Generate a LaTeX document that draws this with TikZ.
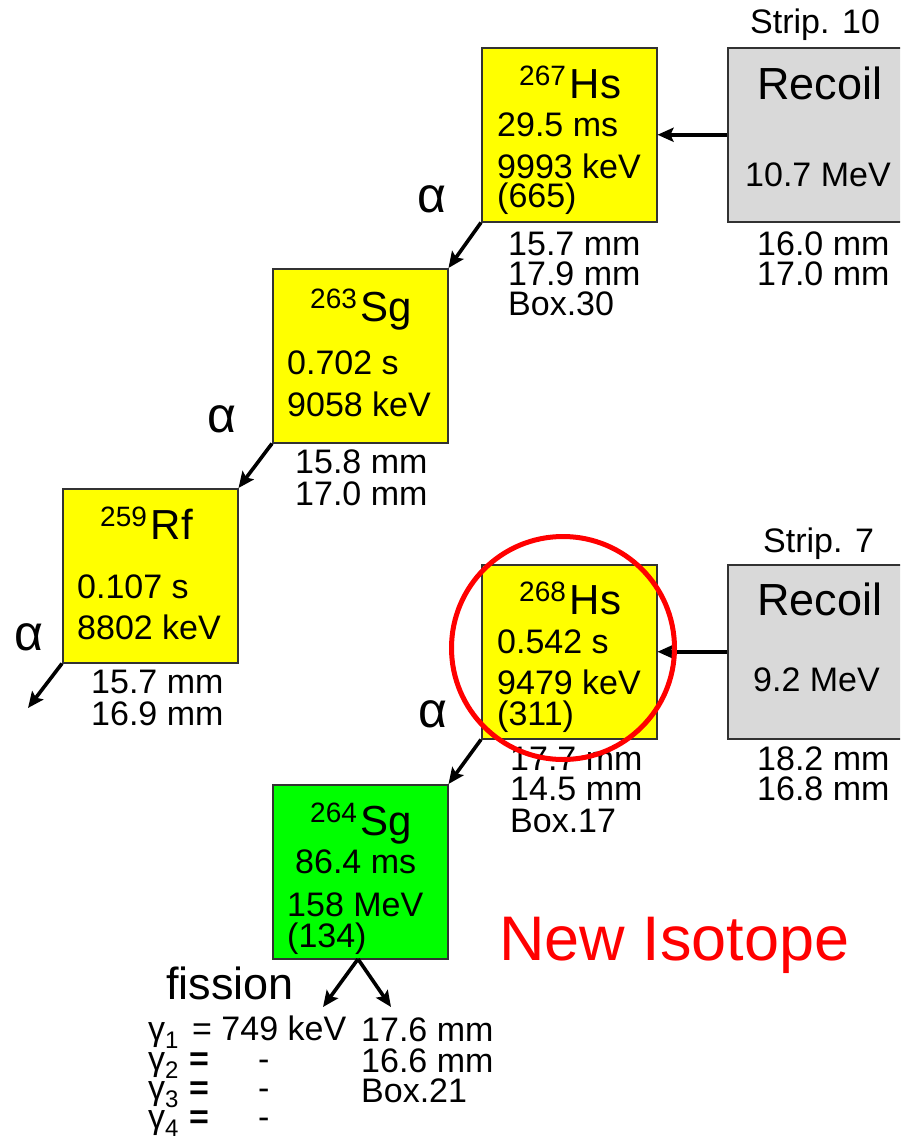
\documentclass[tikz,border=0pt]{standalone}
\usepackage{fontspec}
\setmainfont{Liberation Sans}
\usetikzlibrary{arrows.meta}
\definecolor{boxyellow}{RGB}{255,255,0}
\definecolor{boxgreen}{RGB}{0,255,0}
\definecolor{recoilgray}{RGB}{217,217,217}
\definecolor{edgegray}{RGB}{50,50,50}
\newcommand\fs[1]{\fontsize{#1}{#1}\selectfont}
\newcommand\iso[2]{{\fs{28}\raisebox{13pt}{#1}}\kern4pt{\fs{42}#2}}
\newcommand\gam[1]{γ\raisebox{-8pt}{\fs{24}#1}}
\begin{document}
\begin{tikzpicture}[x=1pt,y=-1pt,
  nucbox/.style={draw=edgegray,line width=1.5pt,minimum width=175pt,minimum height=174pt,inner sep=0,anchor=north west},
  yel/.style={nucbox,fill=boxyellow},
  grn/.style={nucbox,fill=boxgreen},
  rec/.style={nucbox,fill=recoilgray,minimum width=200pt},
  txt/.style={inner sep=0,anchor=base west,font=\fs{34}},
  alph/.style={inner sep=0,anchor=base west,font=\fs{50}},
  decay/.style={line width=3.6pt,-{Stealth[length=16pt,width=14pt,inset=3pt]}},
]
\useasboundingbox (0,0) rectangle (900,1141);
\begin{scope}
\clip (0,0) rectangle (900,1141);
% boxes
\node[yel] (hs267) at (481,47) {};
\node[rec] (rec1) at (727,47) {};
\node[yel] (sg263) at (272,268) {};
\node[yel] (rf259) at (62,488) {};
\node[yel] (hs268) at (481,564) {};
\node[rec] (rec2) at (727,564) {};
\node[grn] (sg264) at (272,784) {};
\end{scope}
\coordinate (rfout) at (28,708);
\coordinate (fisL) at (323,1007);
\coordinate (fisR) at (391,1007);
\coordinate (fisTop) at (358,959);
% connectors
\draw[decay] (rec1.west) -- (hs267.east);
\draw[decay] (rec2.west) -- (hs268.east);
\draw[decay] (hs267.south west) -- (sg263.north east);
\draw[decay] (sg263.south west) -- (rf259.north east);
\draw[decay] (rf259.south west) -- (rfout);
\draw[decay] (hs268.south west) -- (sg264.north east);
\draw[decay] (fisTop) -- (fisL);
\draw[decay] (fisTop) -- (fisR);
% top chain texts
\node[txt] (strip10) at (750,33) {Strip. 10};
\node[txt,font=\fs{45}] (rect1) at (757,99) {Recoil};
\node[txt] (rece1) at (745,186) {10.7 MeV};
\node[txt] (rpos1a) at (757,255) {16.0 mm};
\node[txt] (rpos1b) at (757,285) {17.0 mm};
\node[txt] (hs267n) at (519,98) {\iso{267}{Hs}};
\node[txt] (hs267t) at (497,136) {29.5 ms};
\node[txt] (hs267e) at (497,178) {9993 keV};
\node[txt] (hs267c) at (497,207) {(665)};
\node[txt] (hs267p1) at (508,255) {15.7 mm};
\node[txt] (hs267p2) at (508,285) {17.9 mm};
\node[txt] (hs267b) at (508,315) {Box.30};
\node[alph] (a1) at (417,212) {α};
\node[txt] (sg263n) at (310,321) {\iso{263}{Sg}};
\node[txt] (sg263t) at (287,374) {0.702 s};
\node[txt] (sg263e) at (287,416) {9058 keV};
\node[txt] (sg263p1) at (295,473) {15.8 mm};
\node[txt] (sg263p2) at (295,505) {17.0 mm};
\node[alph] (a2) at (207,432) {α};
\node[txt] (rf259n) at (100,539) {\iso{259}{Rf}};
\node[txt] (rf259t) at (77,598) {0.107 s};
\node[txt] (rf259e) at (77,639) {8802 keV};
\node[txt] (rf259p1) at (91,693) {15.7 mm};
\node[txt] (rf259p2) at (91,725) {16.9 mm};
\node[alph] (a3) at (14,650) {α};
% bottom chain texts
\node[txt] (strip7) at (763,552) {Strip. 7};
\node[txt,font=\fs{45}] (rect2) at (757,615) {Recoil};
\node[txt] (rece2) at (753,691) {9.2 MeV};
\node[txt] (rpos2a) at (757,770) {18.2 mm};
\node[txt] (rpos2b) at (757,800) {16.8 mm};
\node[txt] (hs268n) at (519,614) {\iso{268}{Hs}};
\node[txt] (hs268t) at (497,653) {0.542 s};
\node[txt] (hs268e) at (497,694) {9479 keV};
\node[txt] (hs268c) at (497,725) {(311)};
\node[txt] (hs268p1) at (510,770) {17.7 mm};
\node[txt] (hs268p2) at (510,800) {14.5 mm};
\node[txt] (hs268b) at (510,832) {Box.17};
\node[alph] (a4) at (418,727) {α};
\node[txt] (sg264n) at (310,835) {\iso{264}{Sg}};
\node[txt] (sg264t) at (295,873) {86.4 ms};
\node[txt] (sg264e) at (287,916) {158 MeV};
\node[txt] (sg264c) at (287,947) {(134)};
\node[txt,font=\fs{45}] (fission) at (166,999) {fission};
\node[txt] (g1) at (148,1040) {\gam{1}};
\node[txt] (g1v) at (192,1040) {= 749 keV};
\node[txt] (g2) at (148,1070) {\gam{2}};
\node[txt,font=\fs{34}\bfseries] (g2e) at (189,1070) {=};
\node[txt] (g2v) at (258,1070) {-};
\node[txt] (g3) at (148,1099) {\gam{3}};
\node[txt,font=\fs{34}\bfseries] (g3e) at (189,1099) {=};
\node[txt] (g3v) at (258,1099) {-};
\node[txt] (g4) at (148,1128) {\gam{4}};
\node[txt,font=\fs{34}\bfseries] (g4e) at (189,1128) {=};
\node[txt] (g4v) at (258,1128) {-};
\node[txt] (fp1) at (361,1041) {17.6 mm};
\node[txt] (fp2) at (361,1072) {16.6 mm};
\node[txt] (fb) at (361,1102) {Box.21};
% highlight
\node[draw=red,line width=5pt,circle,minimum size=223pt,inner sep=0] (hl) at (563,648) {};
\node[txt,font=\fs{63},text=red] (newiso) at (499,960) {New Isotope};
\end{tikzpicture}
\end{document}
